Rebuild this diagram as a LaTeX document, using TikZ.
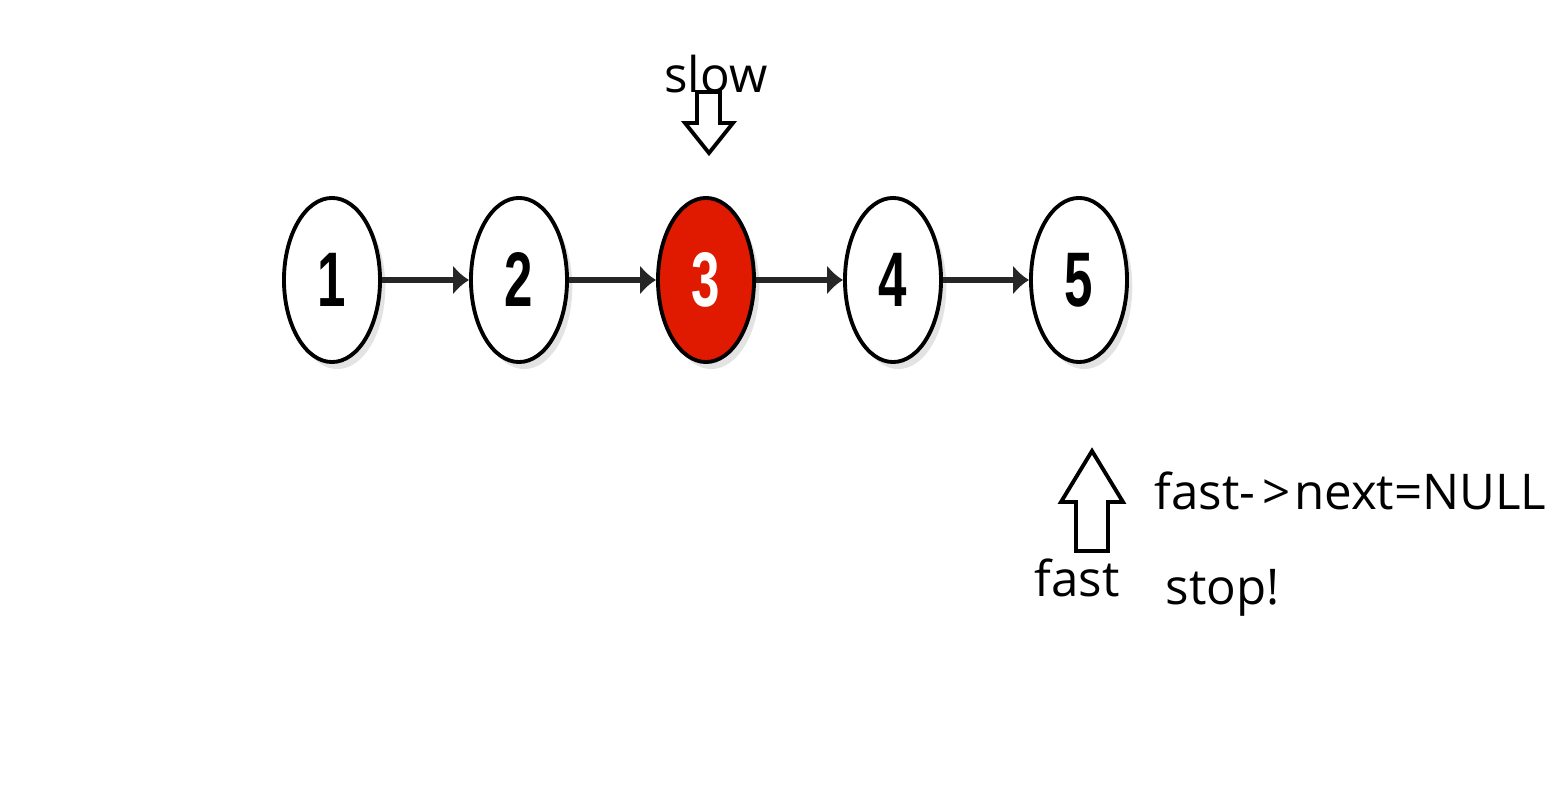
\documentclass[tikz,border=0pt]{standalone}
\usepackage{fontspec}
\setmainfont{Open Sans}
\newfontfamily\numfont{Liberation Sans}
\usetikzlibrary{arrows.meta,shadows,shapes.geometric}
\definecolor{nodered}{RGB}{224,26,0}
\tikzset{
  listnode/.style={ellipse, draw=black, line width=1.1pt, fill=white,
    minimum width=0.96cm, minimum height=1.64cm, inner sep=0pt,
    drop shadow={opacity=0.22, shadow xshift=1.5pt, shadow yshift=-2pt},
    font=\numfont\bfseries\fontsize{22}{22}\selectfont},
  link/.style={line width=1.5pt, draw=black!85,
    -{Latex[length=0.16cm, width=0.3cm]}},
  blockarrow/.style={draw=black, line width=1.1pt, fill=white, line join=miter},
  label/.style={font=\fontsize{14}{14}\selectfont}
}
\newcommand{\digitbox}[1]{\scalebox{0.66}[1]{#1}}
\begin{document}
\begin{tikzpicture}[x=0.01cm, y=-0.01cm]
  \useasboundingbox (0,0) rectangle (1554,792);
  %——————————————————————————————————————————————
  % Nodos de la lista enlazada
  %——————————————————————————————————————————————
  \node[listnode] (n1) at (332,280) {\digitbox{1}};
  \node[listnode] (n2) at (519,280) {\digitbox{2}};
  % El nodo central (donde se detiene slow) en rojo
  \node[listnode, fill=nodered, text=white] (n3) at (706,280) {\digitbox{3}};
  \node[listnode] (n4) at (893,280) {\digitbox{4}};
  \node[listnode] (n5) at (1079,280) {\digitbox{5}};

  %——————————————————————————————————————————————
  % Enlaces entre nodos
  %——————————————————————————————————————————————
  \draw[link] (n1) -- (n2);
  \draw[link] (n2) -- (n3);
  \draw[link] (n3) -- (n4);
  \draw[link] (n4) -- (n5);

  %——————————————————————————————————————————————
  % Puntero slow: flecha hueca hacia abajo
  %——————————————————————————————————————————————
  \node[label, anchor=base] (slow) at (716,93) {slow};
  \draw[blockarrow] (697,92) -- (720,92) -- (720,123) -- (733,123)
    -- (709,153) -- (685,123) -- (697,123) -- cycle;

  %——————————————————————————————————————————————
  % Puntero fast: flecha hueca hacia arriba
  %——————————————————————————————————————————————
  \draw[blockarrow] (1076,551) -- (1108,551) -- (1108,502) -- (1123,502)
    -- (1092,451) -- (1061,502) -- (1076,502) -- cycle;
  \node[label, anchor=base] (fast) at (1077,597) {fast};

  %——————————————————————————————————————————————
  % Condicion de parada
  %——————————————————————————————————————————————
  \node[label, anchor=base west, inner sep=0pt] (cond) at (1154,510)
    {fast-\kern2pt>\kern1pt next=NULL};
  \node[label, anchor=base west, inner sep=0pt] (stop) at (1165,605) {stop!};
\end{tikzpicture}
\end{document}
